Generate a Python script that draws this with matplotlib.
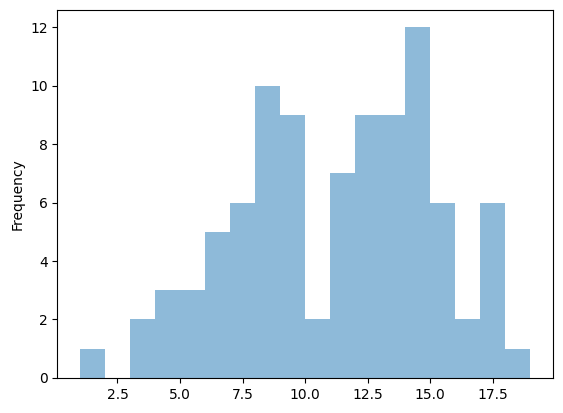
import numpy as np
import matplotlib.pyplot as plt

# bin edges and counts
bin_edges = np.arange(1, 20, 1)
counts = [1, 0, 2, 3, 3, 5, 6, 10, 9, 2, 7, 9, 9, 12, 6, 2, 6, 1]

centers = (bin_edges[:-1] + bin_edges[1:]) / 2

fig = plt.figure(figsize=(5.63, 4.13), dpi=100)
ax = fig.add_axes([0.102, 0.085, 0.88, 0.891])
ax.hist(centers, bins=bin_edges, weights=counts, alpha=0.5, color='C0')
ax.set_ylabel('Frequency')

fig.savefig('out.png', dpi=100)
